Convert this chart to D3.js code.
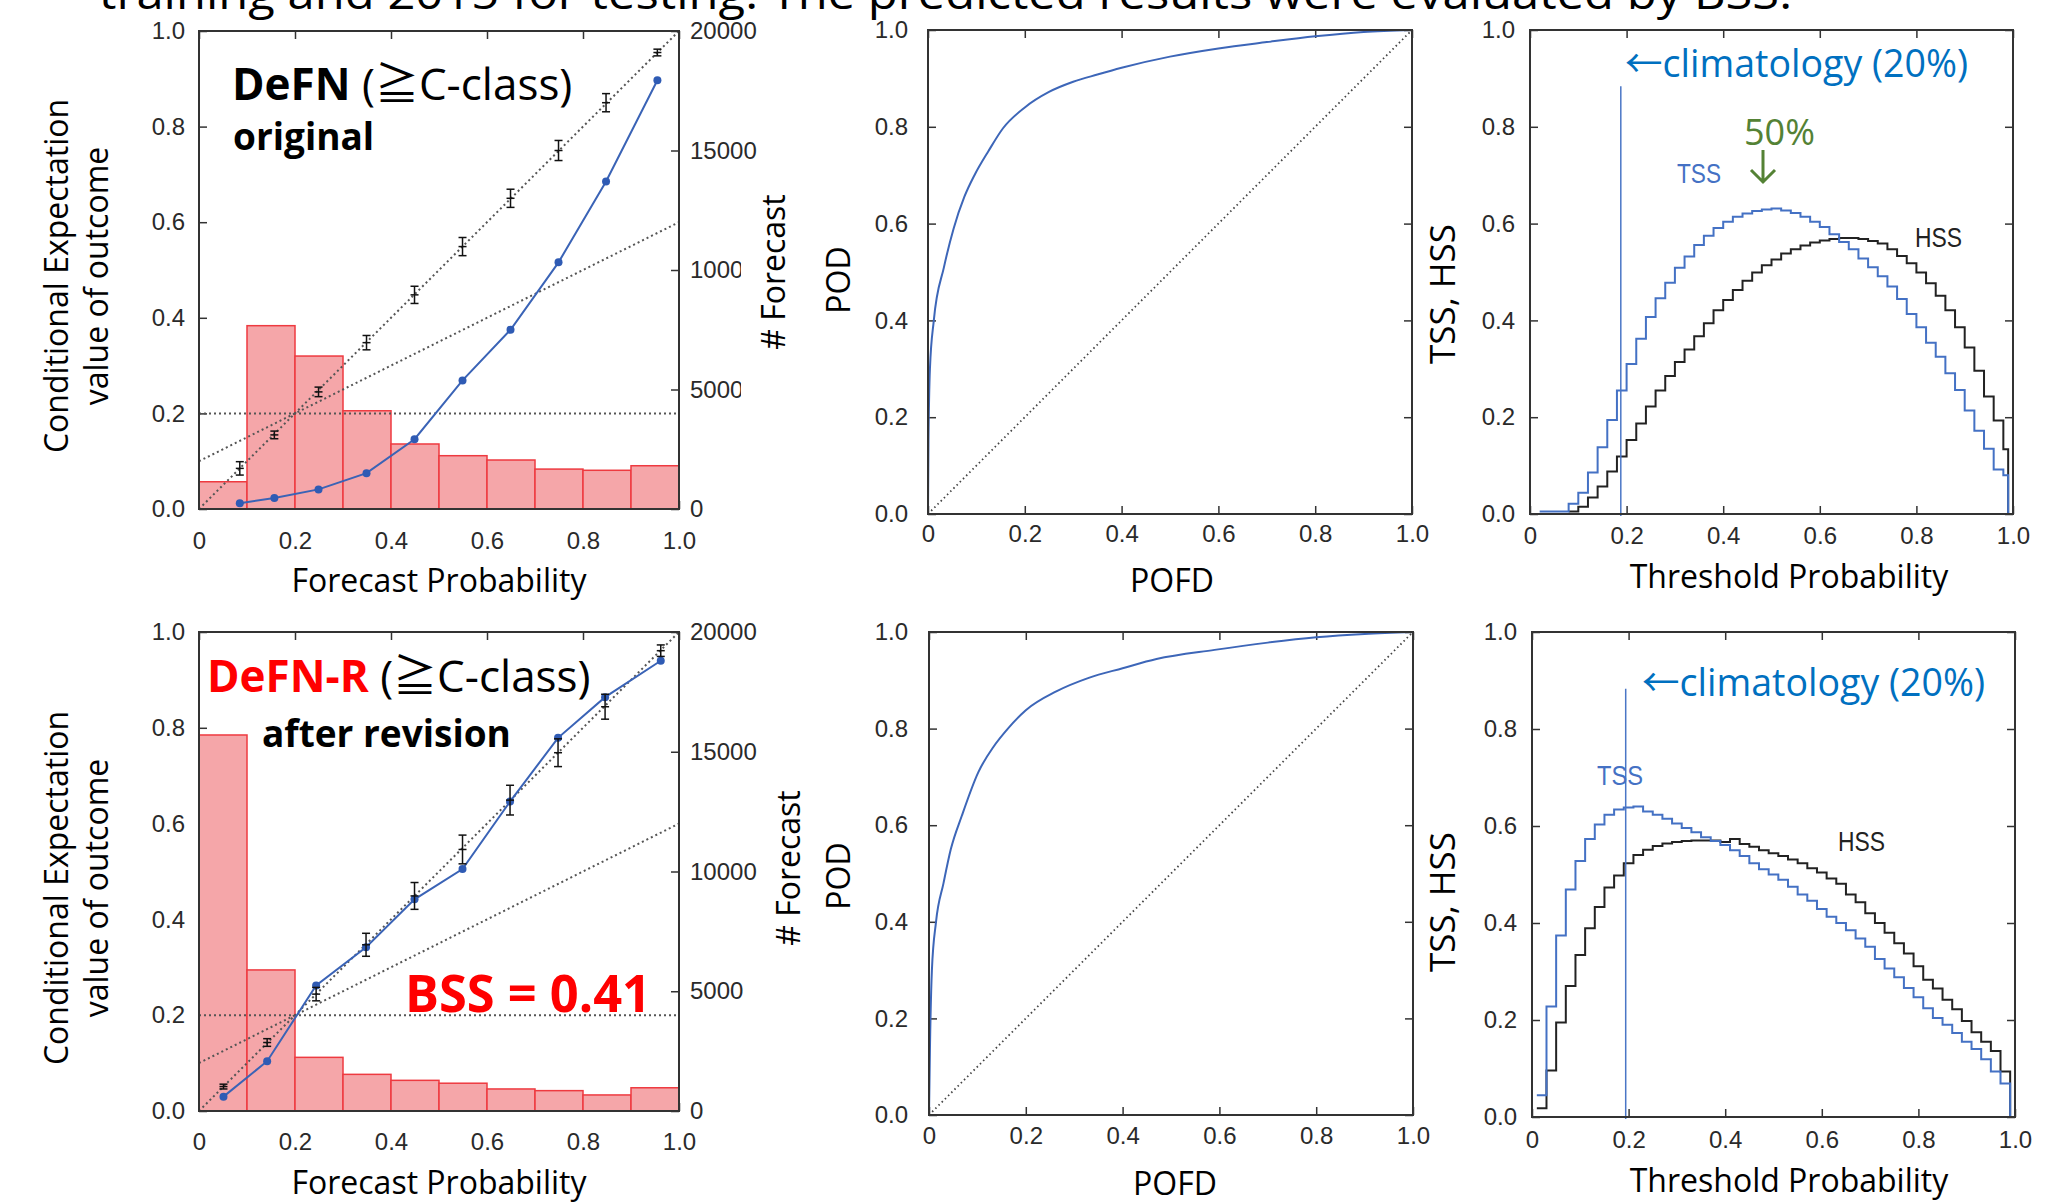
<!DOCTYPE html>
<html>
<head>
<meta charset="utf-8">
<script src="https://cdn.jsdelivr.net/npm/d3@7"></script>
<style>
  body { margin: 0; background: #fff; }
  svg { display: block; }
</style>
</head>
<body>
<svg id="fig" width="2064" height="1202"></svg>
<script>
// ---- data ----
const binEdges = [0, 0.1, 0.2, 0.3, 0.4, 0.5, 0.6, 0.7, 0.8, 0.9, 1.0];
const countTicks = [0, 5000, 10000, 15000, 20000];
const probTicks = [0, 0.2, 0.4, 0.6, 0.8, 1.0];

// reliability, original DeFN
const countsOrig = [1140, 7670, 6400, 4110, 2720, 2230, 2050, 1670, 1620, 1810];
const relXOrig = [0.085, 0.157, 0.249, 0.349, 0.449, 0.549, 0.649, 0.749, 0.848, 0.955];
const relYOrig = [0.012, 0.023, 0.041, 0.075, 0.146, 0.269, 0.375, 0.516, 0.685, 0.897];
const errMidOrig = [0.085, 0.155, 0.245, 0.348, 0.448, 0.549, 0.650, 0.750, 0.850, 0.955];
const errHalfOrig = [0.014, 0.008, 0.010, 0.015, 0.018, 0.019, 0.019, 0.021, 0.019, 0.007];

// reliability, DeFN-R
const countsRev = [15700, 5890, 2240, 1530, 1280, 1160, 920, 850, 670, 970];
const relXRev = [0.051, 0.142, 0.244, 0.348, 0.449, 0.549, 0.648, 0.748, 0.846, 0.962];
const relYRev = [0.030, 0.104, 0.262, 0.342, 0.442, 0.505, 0.646, 0.779, 0.864, 0.940];
const errMidRev = [0.051, 0.143, 0.244, 0.347, 0.449, 0.546, 0.649, 0.748, 0.844, 0.961];
const errHalfRev = [0.005, 0.008, 0.014, 0.024, 0.028, 0.030, 0.031, 0.029, 0.026, 0.012];

const climatology = 0.2;
const noSkill = [[0, 0.1], [1, 0.6]];

// ROC curves
const pofdOrig = [0, 0.001, 0.004, 0.012, 0.033, 0.053, 0.075, 0.096, 0.125, 0.155, 0.2, 0.25, 0.3, 0.35, 0.4, 0.5, 0.6, 0.7, 0.8, 0.9, 1];
const podOrig  = [0, 0.15, 0.3, 0.4, 0.51, 0.59, 0.655, 0.7, 0.75, 0.797, 0.84, 0.872, 0.893, 0.908, 0.922, 0.945, 0.962, 0.975, 0.987, 0.996, 1];
const pofdRev = [0, 0.002, 0.006, 0.0145, 0.03, 0.045, 0.068, 0.102, 0.133, 0.163, 0.2, 0.263, 0.33, 0.4, 0.47, 0.59, 0.7, 0.8, 0.9, 1];
const podRev  = [0, 0.14, 0.3, 0.4, 0.48, 0.55, 0.62, 0.71, 0.762, 0.8, 0.838, 0.877, 0.905, 0.925, 0.944, 0.963, 0.978, 0.989, 0.996, 1];

// TSS / HSS against threshold, 0.02 wide steps
const tssOrig = [0.005, 0.005, 0.005, 0.021, 0.044, 0.086, 0.138, 0.194, 0.255, 0.31,
  0.362, 0.407, 0.446, 0.478, 0.509, 0.532, 0.556, 0.575, 0.591, 0.604,
  0.614, 0.621, 0.626, 0.629, 0.631, 0.627, 0.622, 0.614, 0.604, 0.593,
  0.578, 0.562, 0.547, 0.528, 0.51, 0.491, 0.47, 0.444, 0.413, 0.386,
  0.354, 0.325, 0.291, 0.256, 0.214, 0.172, 0.135, 0.092, 0.08];
const hssOrig = [0.005, 0.015, 0.034, 0.057, 0.088, 0.119, 0.153, 0.187, 0.222, 0.255,
  0.285, 0.314, 0.34, 0.367, 0.394, 0.421, 0.442, 0.463, 0.482, 0.499,
  0.514, 0.526, 0.538, 0.547, 0.555, 0.561, 0.565, 0.568, 0.570, 0.570,
  0.568, 0.564, 0.559, 0.547, 0.533, 0.518, 0.499, 0.477, 0.451, 0.421,
  0.386, 0.344, 0.296, 0.243, 0.193, 0.134];
const tssRev = [0.045, 0.228, 0.374, 0.469, 0.528, 0.573, 0.603, 0.623, 0.634, 0.638,
  0.64, 0.63, 0.623, 0.615, 0.605, 0.596, 0.587, 0.577, 0.569, 0.561,
  0.55, 0.538, 0.523, 0.511, 0.5, 0.489, 0.475, 0.459, 0.446, 0.429,
  0.413, 0.4, 0.385, 0.368, 0.351, 0.326, 0.306, 0.288, 0.266, 0.247,
  0.224, 0.204, 0.19, 0.173, 0.155, 0.14, 0.119, 0.094, 0.069];
const hssRev = [0.018, 0.096, 0.195, 0.27, 0.334, 0.389, 0.433, 0.473, 0.498, 0.523,
  0.54, 0.551, 0.559, 0.564, 0.567, 0.569, 0.570, 0.570, 0.570, 0.567,
  0.573, 0.563, 0.557, 0.55, 0.544, 0.538, 0.531, 0.523, 0.513, 0.504,
  0.492, 0.481, 0.459, 0.443, 0.42, 0.4, 0.38, 0.358, 0.337, 0.311,
  0.283, 0.265, 0.242, 0.222, 0.198, 0.175, 0.155, 0.136, 0.094];
const stepStart = { tssOrig: 0.02, hssOrig: 0.08, tssRev: 0.01, hssRev: 0.01 };
const stepEnd = 0.99;
const climLine = { orig: [0.188, 0.884], rev: [0.194, 0.883] };

// ---- drawing ----
const svg = d3.select("#fig");
svg.append("rect").attr("width", 2064).attr("height", 1202).attr("fill", "#fff");

const tickFont = "'Liberation Sans', Arial, sans-serif";
const labFont = "'Open Sans', 'Noto Sans CJK JP', sans-serif";
const fmtX = d => d === 0 ? "0" : d3.format(".1f")(d);

function scales(b) {
  return {
    x: d3.scaleLinear().domain([0, 1]).range([b.x0, b.x1]),
    y: d3.scaleLinear().domain([0, 1]).range([b.y1, b.y0])
  };
}

function axes(g, b, x, y, o) {
  const ax = (gen, tx, ty) => {
    const a = g.append("g").attr("transform", `translate(${tx},${ty})`).call(gen);
    a.select(".domain").remove();
    a.selectAll("line").attr("stroke", "#333").attr("stroke-width", 1.5);
    a.selectAll("text").attr("font-family", tickFont).attr("font-size", 24).attr("fill", "#2a2a2a");
    return a;
  };
  ax(d3.axisBottom(x).tickValues(probTicks).tickFormat(fmtX).tickSize(-8).tickPadding(o.xPad), 0, b.y1);
  ax(d3.axisLeft(y).tickValues(probTicks).tickFormat(d3.format(".1f")).tickSize(-8).tickPadding(o.yPad), b.x0, 0);
  ax(d3.axisTop(x).tickValues(probTicks).tickFormat("").tickSize(-8), 0, b.y0);
  if (o.count) {
    ax(d3.axisRight(o.count).tickValues(countTicks).tickFormat(d3.format("d")).tickSize(-8).tickPadding(11), b.x1, 0);
  } else {
    ax(d3.axisRight(y).tickValues(probTicks).tickFormat("").tickSize(-8), b.x1, 0);
  }
}

function border(g, b) {
  g.append("rect").attr("x", b.x0).attr("y", b.y0)
    .attr("width", b.x1 - b.x0).attr("height", b.y1 - b.y0)
    .attr("fill", "none").attr("stroke", "#333").attr("stroke-width", 2);
}

function dotted(g, x, y, p, q, w, dash, col) {
  g.append("line")
    .attr("x1", x(p[0])).attr("y1", y(p[1])).attr("x2", x(q[0])).attr("y2", y(q[1]))
    .attr("stroke", col || "#555").attr("stroke-width", w).attr("stroke-dasharray", dash);
}

function reliability(b, counts, px, py, eMid, eHalf, o) {
  const { x, y } = scales(b);
  const c = d3.scaleLinear().domain([0, 20000]).range([b.y1, b.y0]);
  const g = svg.append("g");
  axes(g, b, x, y, { xPad: o.xPad, yPad: 14, count: c });

  g.selectAll("rect.bar").data(counts).join("rect").attr("class", "bar")
    .attr("x", (d, i) => x(binEdges[i]))
    .attr("width", (d, i) => x(binEdges[i + 1]) - x(binEdges[i]))
    .attr("y", d => c(d)).attr("height", d => c(0) - c(d))
    .attr("fill", "#f5a6a9").attr("stroke", "#ee3a40").attr("stroke-width", 1.5);

  dotted(g, x, y, [0, 0], [1, 1], 2, "2,3");
  dotted(g, x, y, [0, climatology], [1, climatology], 2, "2,3");
  dotted(g, x, y, noSkill[0], noSkill[1], 2, "2,3");

  const pts = px.map((v, i) => [v, py[i]]);
  g.append("path").datum(pts)
    .attr("d", d3.line().x(d => x(d[0])).y(d => y(d[1])))
    .attr("fill", "none").attr("stroke", "#3a63b6").attr("stroke-width", 2);
  g.selectAll("circle.pt").data(pts).join("circle").attr("class", "pt")
    .attr("cx", d => x(d[0])).attr("cy", d => y(d[1])).attr("r", 4)
    .attr("fill", "#2f5bb4");

  const eb = g.selectAll("g.eb").data(eMid).join("g").attr("class", "eb")
    .attr("stroke", "#111").attr("stroke-width", 1.5);
  eb.append("line").attr("x1", (d, i) => x(px[i])).attr("x2", (d, i) => x(px[i]))
    .attr("y1", (d, i) => y(d - eHalf[i])).attr("y2", (d, i) => y(d + eHalf[i]));
  [-1, 0, 1].forEach(s => {
    eb.append("line").attr("x1", (d, i) => x(px[i]) - 4).attr("x2", (d, i) => x(px[i]) + 4)
      .attr("y1", (d, i) => y(d + s * eHalf[i])).attr("y2", (d, i) => y(d + s * eHalf[i]));
  });

  border(g, b);
  return g;
}

function roc(b, f, h, o) {
  const { x, y } = scales(b);
  const g = svg.append("g");
  axes(g, b, x, y, { xPad: o.xPad, yPad: o.yPad });
  dotted(g, x, y, [0, 0], [1, 1], 1.8, "1.5,3", "#444");
  g.append("path").datum(f.map((v, i) => [v, h[i]]))
    .attr("d", d3.line().x(d => x(d[0])).y(d => y(d[1])).curve(d3.curveMonotoneX))
    .attr("fill", "none").attr("stroke", "#3d66b8").attr("stroke-width", 2);
  border(g, b);
}

function stepPts(vals, start) {
  const pts = vals.map((v, i) => [start + 0.02 * i, v]);
  pts.push([stepEnd, vals[vals.length - 1]]);
  pts.push([stepEnd, 0]);
  return pts;
}

function skill(b, tss, tssStart, hss, hssStart, clim, o) {
  const { x, y } = scales(b);
  const g = svg.append("g");
  axes(g, b, x, y, { xPad: o.xPad, yPad: 15 });
  const line = d3.line().x(d => x(d[0])).y(d => y(d[1])).curve(d3.curveStepAfter);
  g.append("path").datum(stepPts(hss, hssStart)).attr("d", line)
    .attr("fill", "none").attr("stroke", "#222").attr("stroke-width", 2);
  g.append("path").datum(stepPts(tss, tssStart)).attr("d", line)
    .attr("fill", "none").attr("stroke", "#4471c4").attr("stroke-width", 2);
  g.append("line").attr("x1", x(clim[0])).attr("x2", x(clim[0]))
    .attr("y1", y(clim[1])).attr("y2", y(0) + 2)
    .attr("stroke", "#4a76c6").attr("stroke-width", 1.5);
  border(g, b);
}

const bTL = { x0: 199, x1: 679, y0: 31, y1: 509 };
const bBL = { x0: 199, x1: 679, y0: 632, y1: 1111 };
const bTM = { x0: 928, x1: 1412, y0: 30, y1: 514 };
const bBM = { x0: 929, x1: 1413, y0: 632, y1: 1115 };
const bTR = { x0: 1530, x1: 2013, y0: 30, y1: 514 };
const bBR = { x0: 1532, x1: 2015, y0: 632, y1: 1117 };

reliability(bTL, countsOrig, relXOrig, relYOrig, errMidOrig, errHalfOrig, { xPad: 23 });
reliability(bBL, countsRev, relXRev, relYRev, errMidRev, errHalfRev, { xPad: 22 });
roc(bTM, pofdOrig, podOrig, { xPad: 11, yPad: 20 });
roc(bBM, pofdRev, podRev, { xPad: 12, yPad: 21 });
skill(bTR, tssOrig, stepStart.tssOrig, hssOrig, stepStart.hssOrig, climLine.orig, { xPad: 13 });
skill(bBR, tssRev, stepStart.tssRev, hssRev, stepStart.hssRev, climLine.rev, { xPad: 14 });

// white box of the "# Forecast" label hides part of the count tick labels
svg.append("rect").attr("x", 741).attr("y", 180).attr("width", 60).attr("height", 235).attr("fill", "#fff");

// ---- text ----
function txt(x, y, s, size, opts = {}) {
  const t = svg.append("text").attr("x", x).attr("y", y)
    .attr("font-family", opts.font || labFont).attr("font-size", size)
    .attr("fill", opts.fill || "#000").attr("font-weight", opts.weight || "normal")
    .attr("text-anchor", opts.anchor || "start");
  if (opts.rot) t.attr("x", 0).attr("y", 0).attr("transform", `translate(${x},${y}) rotate(-90)`);
  if (opts.len) t.attr("textLength", opts.len).attr("lengthAdjust", "spacingAndGlyphs");
  t.text(s);
  return t;
}

txt(99, 9, "training and 2015 for testing. The predicted results were evaluated by BSS.", 44, { len: 1693 });

// axis titles
[[276, 592], [888, 1194]].forEach(([cy, xb]) => {
  txt(68, cy, "Conditional Expectation", 32, { rot: true, anchor: "middle" });
  txt(108, cy, "value of outcome", 32, { rot: true, anchor: "middle" });
  txt(439, xb, "Forecast Probability", 32, { anchor: "middle" });
});
txt(785, 272, "# Forecast", 32, { rot: true, anchor: "middle" });
txt(800, 868, "# Forecast", 32, { rot: true, anchor: "middle" });
txt(850, 280, "POD", 32, { rot: true, anchor: "middle" });
txt(850, 876, "POD", 32, { rot: true, anchor: "middle" });
txt(1172, 592, "POFD", 32, { anchor: "middle" });
txt(1175, 1195, "POFD", 32, { anchor: "middle" });
txt(1455, 294, "TSS, HSS", 35, { rot: true, anchor: "middle" });
txt(1455, 902, "TSS, HSS", 35, { rot: true, anchor: "middle" });
txt(1789, 588, "Threshold Probability", 32, { anchor: "middle" });
txt(1789, 1192, "Threshold Probability", 32, { anchor: "middle" });

// panel annotations
const t1 = txt(232, 100, "", 44);
t1.append("tspan").attr("font-weight", "bold").text("DeFN");
t1.append("tspan").text(" (≧C-class)");
txt(233, 150, "original", 37, { weight: "bold" });

const t2 = txt(207, 692, "", 44);
t2.append("tspan").attr("font-weight", "bold").attr("fill", "#ff0000").text("DeFN-R");
t2.append("tspan").text(" (≧C-class)");
txt(262, 747, "after revision", 37, { weight: "bold" });
txt(405, 1012, "BSS = 0.41", 52, { weight: "bold", fill: "#ff0000", len: 246 });

txt(1625, 77, "←climatology (20%)", 38, { fill: "#0070c0", len: 343 });
txt(1642, 696, "←climatology (20%)", 38, { fill: "#0070c0", len: 343 });

txt(1677, 183, "TSS", 28, { font: tickFont, fill: "#4471c4", len: 44 });
txt(1597, 785, "TSS", 28, { font: tickFont, fill: "#4471c4", len: 46 });
txt(1915, 247, "HSS", 28, { font: tickFont, fill: "#222", len: 47 });
txt(1838, 851, "HSS", 28, { font: tickFont, fill: "#222", len: 47 });

txt(1744, 145, "50%", 36, { fill: "#548235" });
svg.append("path").attr("d", "M1763,150 L1763,182 M1751,170 L1763,182 L1775,170")
  .attr("fill", "none").attr("stroke", "#548235").attr("stroke-width", 3);
</script>
</body>
</html>
